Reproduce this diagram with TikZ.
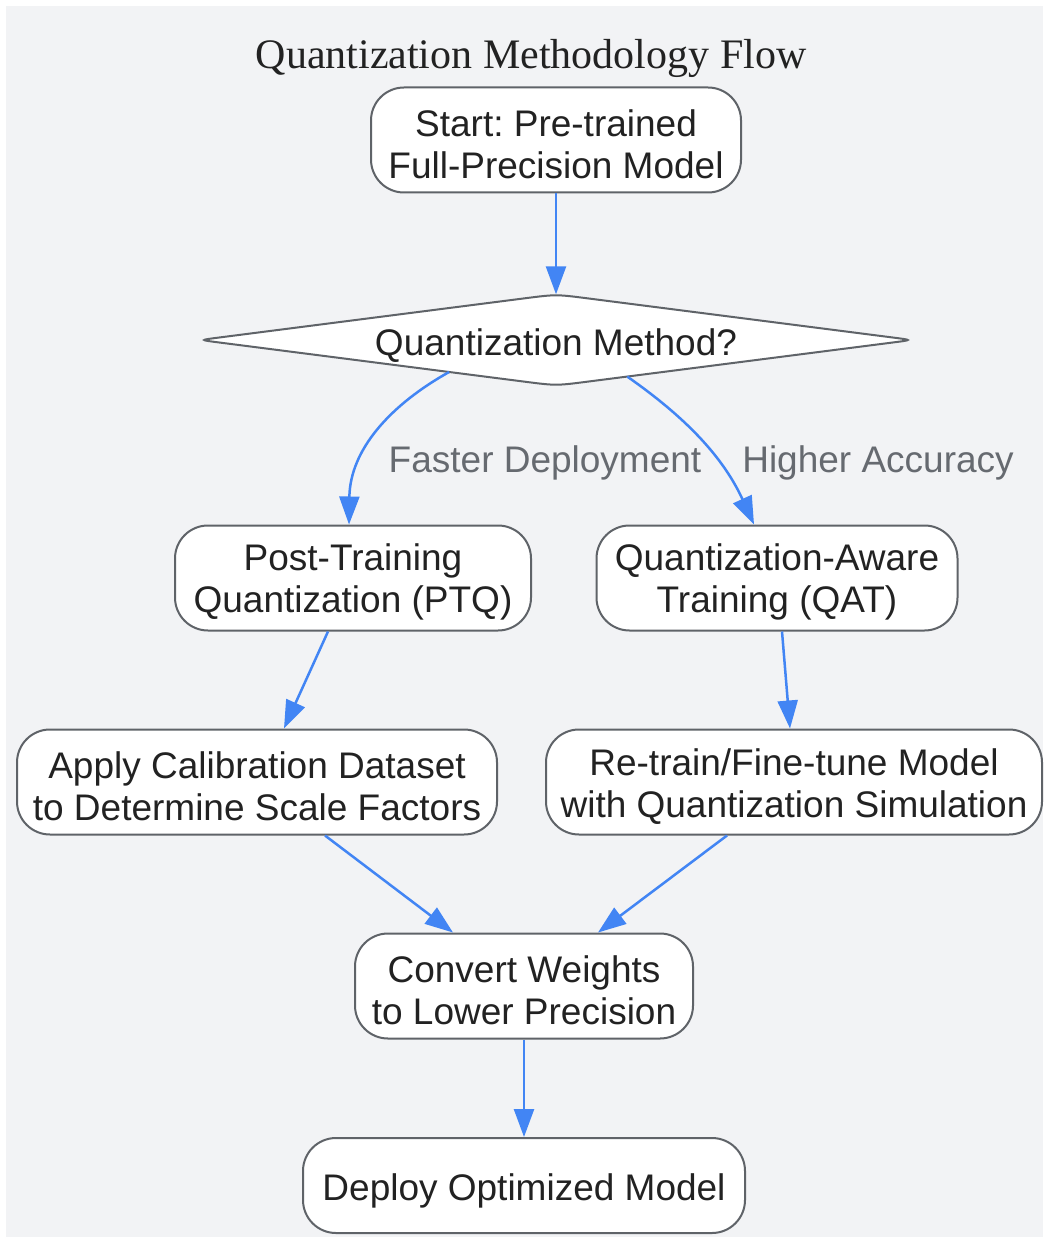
\documentclass[tikz,border=0pt]{standalone}
\usepackage{fontspec}
\setmainfont{Liberation Sans}
\newfontfamily\titlefont{Liberation Serif}
\usetikzlibrary{arrows.meta,shapes.geometric,calc}
\definecolor{bgc}{RGB}{242,243,245}
\definecolor{edgec}{RGB}{66,133,244}
\definecolor{bordc}{RGB}{95,99,104}
\definecolor{txtc}{RGB}{34,34,34}
\definecolor{lblc}{RGB}{102,106,112}
\newcommand{\tup}{\rule{0pt}{35pt}}
\frenchspacing
\begin{document}
\begin{tikzpicture}[x=1pt,y=-1pt,
  box/.style={draw=bordc, line width=2pt, fill=white, rounded corners=33pt,
    align=center, text=txtc, font=\fontsize{37}{42}\selectfont, inner sep=0pt},
  flow/.style={draw=edgec, line width=2.5pt, -{Triangle[length=28pt,width=20pt]}},
  lbl/.style={text=lblc, font=\fontsize{37}{42}\selectfont, inner sep=0pt},
  qtext/.style={text=txtc, font=\fontsize{37}{42}\selectfont, inner sep=0pt}]
\useasboundingbox (0,0) rectangle (1043,1238);
\fill[bgc] (6,6) rectangle (1043,1237);

\node[font=\titlefont\fontsize{42}{48}\selectfont, text=txtc, inner sep=0pt] (title) at (531,58) {Quantization Methodology Flow};

\node[box, minimum width=370pt, minimum height=105pt] (start) at (556,140) {\tup Start: Pre-trained\\Full-Precision Model};

\node[diamond, aspect=7.82, minimum width=712pt, minimum height=91pt, inner sep=0pt, draw=none] (q) at (556,340) {};
\draw[draw=bordc, line width=2pt, fill=white]
  ($(q.north)!32pt!(q.west)$) .. controls (q.north) .. ($(q.north)!32pt!(q.east)$)
  -- ($(q.east)!18pt!(q.north)$) .. controls (q.east) .. ($(q.east)!18pt!(q.south)$)
  -- ($(q.south)!32pt!(q.east)$) .. controls (q.south) .. ($(q.south)!32pt!(q.west)$)
  -- ($(q.west)!18pt!(q.south)$) .. controls (q.west) .. ($(q.west)!18pt!(q.north)$)
  -- cycle;
\node[qtext] (qt) at ([yshift=-6pt]q.center) {Quantization Method?};

\node[box, minimum width=356pt, minimum height=105pt] (ptq) at (353,578) {\tup Post-Training\\Quantization (PTQ)};
\node[box, minimum width=361pt, minimum height=105pt] (qat) at (777,578) {\tup Quantization-Aware\\Training (QAT)};
\node[box, minimum width=480pt, minimum height=105pt] (calib) at (257,782) {\tup Apply Calibration Dataset\\to Determine Scale Factors};
\node[box, minimum width=496pt, minimum height=105pt] (retrain) at (794,782) {\tup Re-train/Fine-tune Model\\with Quantization Simulation};
\node[box, minimum width=338pt, minimum height=105pt] (convert) at (524,986) {\tup Convert Weights\\to Lower Precision};
\node[box, minimum width=442pt, minimum height=95pt] (deploy) at (524,1185.5) {\rule{0pt}{37pt}Deploy Optimized Model};

\draw[flow] (start) -- (q.north);
\draw[flow] ($(q.west)!0.7!(q.south)$) .. controls (390,405) and (350,450) .. ([xshift=-4pt]ptq.north);
\draw[flow] ($(q.south)!0.2!(q.east)$) .. controls (675,410) and (720,450) .. ([xshift=-23pt]qat.north);
\node[lbl] (l1) at (545,463) {Faster Deployment};
\node[lbl] (l2) at (878,463) {Higher Accuracy};

\draw[flow] ([xshift=-25pt]ptq.south) -- ([xshift=27pt]calib.north);
\draw[flow] ([xshift=5pt]qat.south) -- ([xshift=-4pt]retrain.north);
\draw[flow] ([xshift=68pt]calib.south) -- ([xshift=-71pt]convert.north);
\draw[flow] ([xshift=-67pt]retrain.south) -- ([xshift=74pt]convert.north);
\draw[flow] (convert) -- (deploy);
\end{tikzpicture}
\end{document}
